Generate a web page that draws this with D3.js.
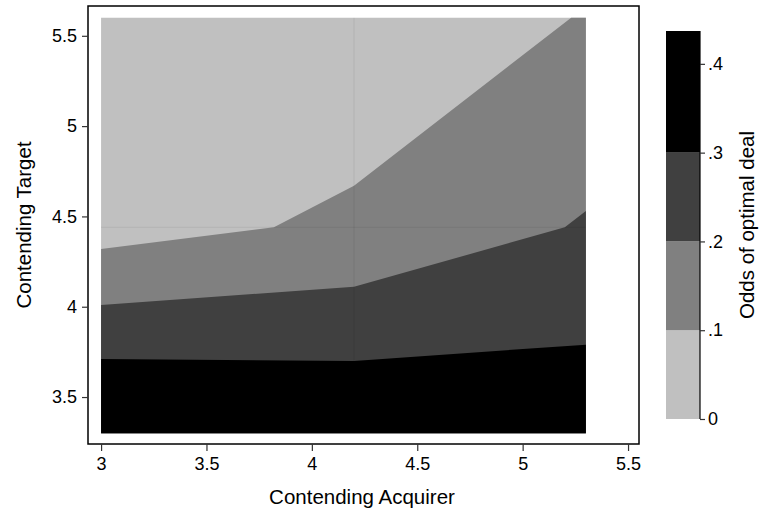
<!DOCTYPE html>
<html>
<head>
<meta charset="utf-8">
<script src="https://cdn.jsdelivr.net/npm/d3@7"></script>
<style>
  html, body { margin: 0; padding: 0; background: #fff; }
  svg { display: block; font-family: "Liberation Sans", Arial, Helvetica, sans-serif; }
</style>
</head>
<body>
<svg id="chart" width="760" height="514"></svg>
<script>
// Contour bands of the odds of an optimal deal over the two contending scores.
const xGrid = [3, 4.2, 5.3];          // acquirer grid nodes
const yGrid = [3.3, 4.44, 5.6];       // target grid nodes
const xTicks = [3, 3.5, 4, 4.5, 5, 5.5];
const yTicks = [3.5, 4, 4.5, 5, 5.5];
const levels = [0, 0.1, 0.2, 0.3];    // lower bound of each band
const zMax = 0.437;
const zTicks = [0, 0.1, 0.2, 0.3, 0.4];
const bandColors = ["#c0c0c0", "#808080", "#404040", "#000000"];

// Upper edge of the region where odds >= level (points: acquirer, target)
const edge10 = [[3, 4.32], [3.82, 4.44], [4.2, 4.67], [5.23, 5.6], [5.3, 5.6]];
const edge20 = [[3, 4.01], [4.2, 4.11], [5.2, 4.44], [5.3, 4.53]];
const edge30 = [[3, 3.71], [4.2, 3.70], [5.3, 3.79]];
const edges = [edge10, edge20, edge30];

const svg = d3.select("#chart");

const x = d3.scaleLinear().domain([2.938, 5.552]).range([88, 639]);
const y = d3.scaleLinear().domain([3.24, 5.665]).range([444, 6]);

const tickFont = 18, titleFont = 20.5;

// Base band covers the whole grid
const xMin = d3.min(xGrid), xMax = d3.max(xGrid);
const yMin = d3.min(yGrid), yMax = d3.max(yGrid);
svg.append("rect")
  .attr("x", x(xMin)).attr("y", y(yMax))
  .attr("width", x(xMax) - x(xMin)).attr("height", y(yMin) - y(yMax))
  .attr("fill", bandColors[0]);

const area = d3.area()
  .x(d => x(d[0]))
  .y0(y(yMin))
  .y1(d => y(d[1]));

edges.forEach((e, i) => {
  svg.append("path").attr("d", area(e)).attr("fill", bandColors[i + 1]);
});

// Faint seams where the grid cells meet
const seams = svg.append("g").attr("stroke", "rgba(0,0,0,0.07)").attr("stroke-width", 1);
xGrid.slice(1, -1).forEach(v => {
  seams.append("line").attr("x1", x(v)).attr("x2", x(v)).attr("y1", y(yMin)).attr("y2", y(yMax));
});
yGrid.slice(1, -1).forEach(v => {
  seams.append("line").attr("x1", x(xMin)).attr("x2", x(xMax)).attr("y1", y(v)).attr("y2", y(v));
});

// Plot frame
svg.append("rect")
  .attr("x", 88).attr("y", 6).attr("width", 551).attr("height", 438)
  .attr("fill", "none").attr("stroke", "#000").attr("stroke-width", 1.5);

// Axes
const xAxis = d3.axisBottom(x).tickValues(xTicks).tickSize(7).tickPadding(6)
  .tickFormat(d3.format("~g"));
const gx = svg.append("g").attr("transform", "translate(0,444)").call(xAxis);
gx.select(".domain").remove();
gx.selectAll(".tick line").attr("stroke", "#333").attr("stroke-width", 1.2);
gx.selectAll(".tick text").attr("font-size", tickFont).attr("fill", "#000")
  .attr("font-family", "Liberation Sans, Arial, sans-serif");

const yAxis = d3.axisLeft(y).tickValues(yTicks).tickSize(6).tickPadding(5)
  .tickFormat(d3.format("~g"));
const gy = svg.append("g").attr("transform", "translate(88,0)").call(yAxis);
gy.select(".domain").remove();
gy.selectAll(".tick line").attr("stroke", "#333").attr("stroke-width", 1.2);
gy.selectAll(".tick text").attr("font-size", tickFont).attr("fill", "#000")
  .attr("font-family", "Liberation Sans, Arial, sans-serif");

svg.append("text")
  .attr("x", 362).attr("y", 504)
  .attr("text-anchor", "middle").attr("font-size", titleFont)
  .text("Contending Acquirer");

svg.append("text")
  .attr("transform", "translate(31,225) rotate(-90)")
  .attr("text-anchor", "middle").attr("font-size", titleFont)
  .text("Contending Target");

// Colour key
const z = d3.scaleLinear().domain([0, zMax]).range([419, 31]);
const bandTops = levels.slice(1).concat([zMax]);
const key = svg.append("g");
levels.forEach((lv, i) => {
  key.append("rect")
    .attr("x", 666).attr("width", 34)
    .attr("y", z(bandTops[i])).attr("height", z(lv) - z(bandTops[i]))
    .attr("fill", bandColors[i]);
});
const zAxis = d3.axisRight(z).tickValues(zTicks).tickSize(5).tickPadding(3)
  .tickFormat(d => d === 0 ? "0" : d3.format(".1f")(d).replace(/^0/, ""));
const gz = svg.append("g").attr("transform", "translate(700,0)").call(zAxis);
gz.select(".domain").attr("stroke", "#000").attr("stroke-width", 1.2)
  .attr("d", `M0,${z(0)}V${z(zMax)}`);
gz.selectAll(".tick line").attr("stroke", "#333").attr("stroke-width", 1.2);
gz.selectAll(".tick text").attr("font-size", tickFont).attr("fill", "#000")
  .attr("font-family", "Liberation Sans, Arial, sans-serif");

svg.append("text")
  .attr("transform", "translate(754,225) rotate(-90)")
  .attr("text-anchor", "middle").attr("font-size", titleFont)
  .text("Odds of optimal deal");
</script>
</body>
</html>
